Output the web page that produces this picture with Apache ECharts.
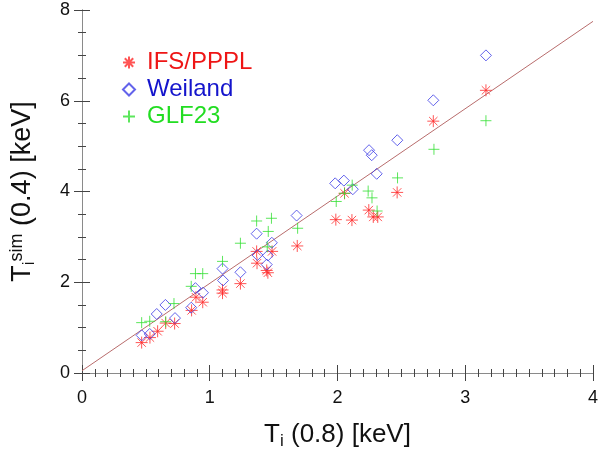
<!DOCTYPE html>
<html><head><meta charset="utf-8">
<script src="https://cdn.jsdelivr.net/npm/echarts@6/dist/echarts.min.js"></script>
<style>html,body{margin:0;padding:0;background:#fff}#c{width:601px;height:455px}</style>
</head><body><div id="c"></div>
<script>
// ---- data ----
const seriesNames = ['IFS/PPPL', 'Weiland', 'GLF23'];
const xTickLabels = ['0', '1', '2', '3', '4'];
const yTickLabels = ['0', '2', '4', '6', '8'];

const ifsPoints = [
  [0.467,0.67],[0.532,0.78],[0.592,0.92],[0.655,1.10],[0.725,1.09],[0.858,1.38],
  [0.892,1.67],[0.945,1.56],[1.10,1.83],[1.10,1.76],[1.24,1.97],[1.37,2.42],
  [1.367,2.68],[1.446,2.26],[1.455,2.21],[1.488,2.68],[1.685,2.80],[1.987,3.38],
  [2.055,3.96],[2.113,3.37],[2.245,3.59],[2.28,3.44],[2.315,3.44],[2.467,3.98],
  [2.75,5.55],[3.162,6.23]
];
const weilandPoints = [
  [0.467,0.83],[0.53,0.86],[0.585,1.30],[0.653,1.50],[0.728,1.21],[0.855,1.44],
  [0.888,1.87],[0.947,1.77],[1.10,2.30],[1.104,2.04],[1.24,2.22],[1.367,3.07],
  [1.373,2.60],[1.446,2.39],[1.455,2.59],[1.486,2.87],[1.68,3.47],[1.982,4.18],
  [2.05,4.24],[2.12,4.05],[2.247,4.91],[2.268,4.80],[2.307,4.39],[2.468,5.13],
  [2.75,6.01],[3.162,7.00]
];
const glfPoints = [
  [0.467,1.11],[0.53,1.14],[0.655,1.13],[0.72,1.53],[0.855,1.91],[0.888,2.19],
  [0.945,2.19],[1.10,2.46],[1.24,2.86],[1.367,3.35],[1.45,2.78],[1.458,3.12],
  [1.483,3.41],[1.688,3.19],[1.99,3.78],[2.055,3.96],[2.115,4.14],[2.24,4.01],
  [2.27,3.86],[2.31,3.57],[2.47,4.30],[2.755,4.93],[3.162,5.56]
];
const fitLine = [[0, 0.05], [4, 7.75]];

// ---- styling ----
const FONT = '"Liberation Sans", Arial, Helvetica, sans-serif';
const AXIS_GRAY = '#8a8a8a';
const TICK_COLOR = '#444444';
const asteriskPath = 'path://M10,0L10,20M0,10L20,10M3,3L17,17M17,3L3,17';
const plusPath = 'path://M10,0L10,20M0,10L20,10';

// one side of the plot frame, ticks pointing into the plot.
// kind: 'major' -> frame line + major ticks (+labels); 'minor' -> minor ticks only
function frameAxis(isX, pos, kind, showLabels) {
  const labels = isX ? xTickLabels : yTickLabels;
  const step = isX ? 1 : 2;
  const major = kind === 'major';
  return {
    type: 'value', position: pos, min: 0, max: isX ? 4 : 8, interval: step,
    axisLine: { show: major, lineStyle: { color: AXIS_GRAY } },
    axisTick: { show: major, inside: true, length: 8, lineStyle: { color: TICK_COLOR } },
    minorTick: { show: !major, splitNumber: isX ? 10 : 4, length: 4, lineStyle: { color: TICK_COLOR } },
    splitLine: { show: false },
    axisLabel: {
      show: !!showLabels, color: '#111', fontSize: 18, fontFamily: FONT,
      margin: isX ? 16 : 12,
      formatter: function (v) { const i = Math.round(v / step); return labels[i] !== undefined ? labels[i] : ''; }
    }
  };
}

const xMain = frameAxis(true, 'bottom', 'major', true);
xMain.name = '{t|T}{s|i}{t| (0.8) [keV]}';
xMain.nameLocation = 'middle';
xMain.nameGap = 47;
xMain.nameTextStyle = {
  fontFamily: FONT, color: '#111',
  rich: {
    t: { fontSize: 26, lineHeight: 30, fontFamily: FONT, color: '#111' },
    s: { fontSize: 17, lineHeight: 13, verticalAlign: 'bottom', fontFamily: FONT, color: '#111' }
  }
};
const yMain = frameAxis(false, 'left', 'major', true);
yMain.name = '{t|T}{s|i}{p|sim}{t| (0.4) [keV]}';
yMain.nameLocation = 'middle';
yMain.nameGap = 44;
yMain.nameRotate = 90;
yMain.nameTextStyle = {
  fontFamily: FONT, color: '#111',
  rich: {
    t: { fontSize: 27, lineHeight: 30, fontFamily: FONT, color: '#111' },
    s: { fontSize: 17, lineHeight: 13, verticalAlign: 'bottom', fontFamily: FONT, color: '#111' },
    p: { fontSize: 18, lineHeight: 13, verticalAlign: 'top', fontFamily: FONT, color: '#111' }
  }
};

const chart = echarts.init(document.getElementById('c'), null, { renderer: 'canvas' });
chart.setOption({
  animation: false,
  grid: { left: 82, right: 8, top: 10, bottom: 82 },
  xAxis: [
    xMain,
    frameAxis(true, 'top', 'major', false),
    frameAxis(true, 'bottom', 'minor', false),
    frameAxis(true, 'top', 'minor', false)
  ],
  yAxis: [
    yMain,
    frameAxis(false, 'right', 'major', false),
    frameAxis(false, 'left', 'minor', false),
    frameAxis(false, 'right', 'minor', false)
  ],
  legend: {
    orient: 'vertical', left: 117, top: 44,
    itemWidth: 12, itemHeight: 12, itemGap: 0,
    textStyle: { fontSize: 24, lineHeight: 27, fontFamily: FONT, padding: [0, 0, 0, 7] },
    data: [
      { name: seriesNames[0], textStyle: { color: '#ee1515' } },
      { name: seriesNames[1], textStyle: { color: '#1414cc' } },
      { name: seriesNames[2], textStyle: { color: '#22dd22' } }
    ]
  },
  // every axis pair has identical scales; each series sits on one pair so no axis is left empty
  series: [
    {
      type: 'line', data: fitLine, symbol: 'none', silent: true,
      xAxisIndex: 0, yAxisIndex: 0,
      lineStyle: { color: '#b86c6c', width: 1 }, z: 1
    },
    {
      name: seriesNames[0], type: 'scatter', data: ifsPoints,
      xAxisIndex: 1, yAxisIndex: 1,
      symbol: asteriskPath, symbolSize: 12,
      itemStyle: { color: 'rgba(0,0,0,0)', borderColor: '#ff2a2a', borderWidth: 1 }, z: 3
    },
    {
      name: seriesNames[1], type: 'scatter', data: weilandPoints,
      xAxisIndex: 2, yAxisIndex: 2,
      symbol: 'diamond', symbolSize: 11,
      itemStyle: { color: 'rgba(0,0,0,0)', borderColor: '#3c3ce6', borderWidth: 1 }, z: 3
    },
    {
      name: seriesNames[2], type: 'scatter', data: glfPoints,
      xAxisIndex: 3, yAxisIndex: 3,
      symbol: plusPath, symbolSize: 11,
      itemStyle: { color: 'rgba(0,0,0,0)', borderColor: '#33e033', borderWidth: 1 }, z: 3
    }
  ]
});
</script></body></html>
